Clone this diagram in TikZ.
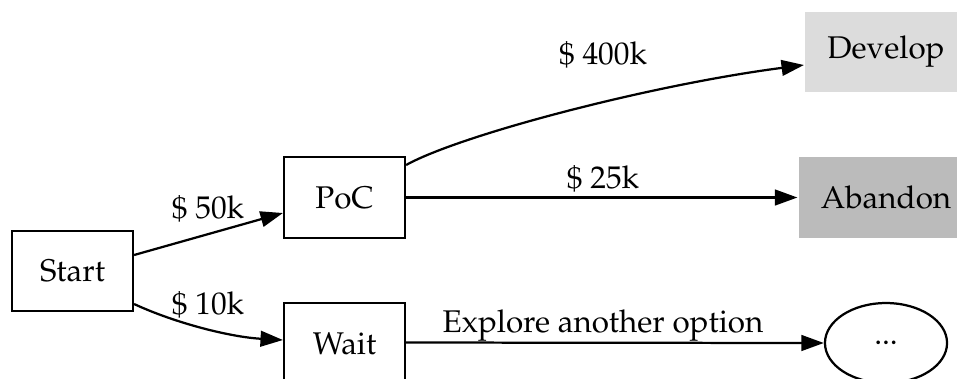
\documentclass[tikz,border=0pt]{standalone}
\usepackage[T1]{fontenc}
\usepackage{mathpazo}
\usepackage{tikz}
\usetikzlibrary{calc,arrows.meta,shapes.geometric}
\usepackage{xcolor}

\definecolor{developgray}{RGB}{220,220,220}
\definecolor{abandongray}{RGB}{187,187,187}

\begin{document}
\begin{tikzpicture}[x=0.4464pt, y=-0.4464pt, line width=1pt,
        every node/.style={font=\fontsize{14}{17}\selectfont},
        stepbox/.style={draw, rectangle, minimum width=54pt, minimum height=36pt, inner xsep=10pt},
        outcome/.style={rectangle, minimum height=36pt, inner xsep=10pt},
        edge/.style={-{Triangle[length=10pt,width=7pt]}},
        cost/.style={anchor=base, inner sep=0pt}]
        % Page
        \useasboundingbox (0,0) rectangle (957,378);

        % Decision nodes
        \node[stepbox] (start) at (72.5,271) {Start};
        \node[stepbox] (poc)   at (344.5,197.5) {PoC};
        \node[stepbox] (wait)  at (344.5,343.5) {Wait};

        % Outcomes
        \node[outcome, fill=developgray] (develop) at (886,52) {Develop};
        \node[outcome, fill=abandongray] (abandon) at (886,197.5) {Abandon};
        \node[draw, ellipse, minimum width=54.5pt, minimum height=35.7pt] (more) at (886,343) {...};

        % Edges
        \draw[edge] ($(start.east)+(0,-16)$) -- ($(poc.west)+(0,15.5)$);
        \draw[edge] ($(start.east)+(0,33)$)
            .. controls (175,323) and (230,337) .. ($(wait.west)+(0,-3.5)$);
        \draw[edge] ($(poc.east)+(0,-32.5)$)
            .. controls (460,135) and (650,85) .. ($(develop.west)+(0,13)$);
        \draw[edge] (poc.east) -- (abandon.west);
        \draw[edge] ($(wait.east)+(0,-1)$) -- (more.west);

        % Edge labels
        \node[cost] (c50)  at (208,218) {\$ 50k};
        \node[cost] (c10)  at (208,314) {\$ 10k};
        \node[cost] (c400) at (603,64) {\$ 400k};
        \node[cost] (c25)  at (603,188) {\$ 25k};
        \node[cost] (expl) at (603,332) {Explore another option};
    \end{tikzpicture}
\end{document}
